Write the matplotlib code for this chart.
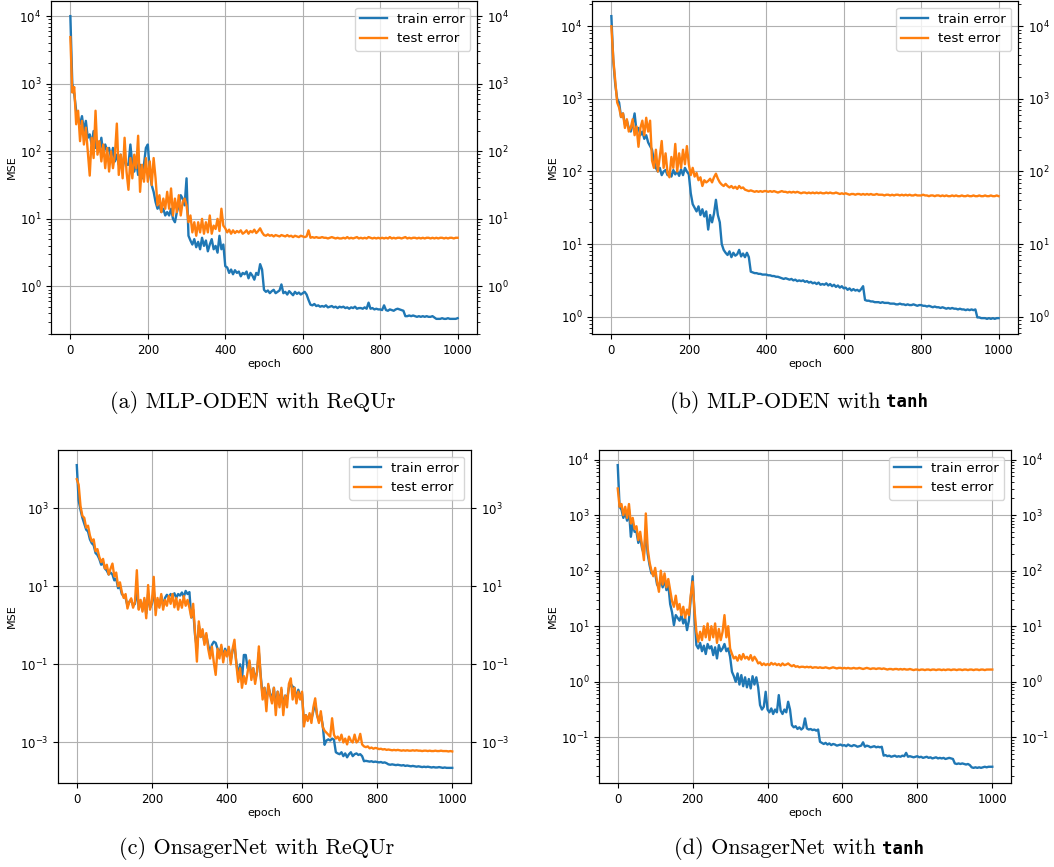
import numpy as np
import matplotlib
matplotlib.use("Agg")
import matplotlib.pyplot as plt
from matplotlib.ticker import NullLocator

# epochs sampled every 5 (x data)
epochs = np.arange(0, 1001, 5)

# ---- values, stored as log10(MSE) ----
# (a) MLP-ODEN with ReQUr
a_train_log10 = [
    4.0, 3.0, 2.85, 2.6, 2.5, 2.4, 2.52, 2.3, 2.45, 2.2,
    2.25, 2.1, 2.3, 2.05, 2.15, 2.0, 2.2, 1.95, 2.1, 2.0,
    2.05, 1.9, 2.05, 1.85, 1.95, 1.8, 1.95, 1.75, 1.9, 1.8,
    1.8, 2.1, 1.8, 1.7, 1.85, 1.65, 1.8, 1.6, 1.8, 2.05,
    2.1, 1.7, 1.5, 1.4, 1.25, 1.15, 1.2, 1.1, 1.15, 1.05,
    1.1, 1.05, 1.15, 1.0, 0.95, 1.1, 1.2, 1.35, 1.3, 1.2,
    1.6, 0.75, 0.68, 0.62, 0.7, 0.58, 0.66, 0.55, 0.72, 0.6,
    0.68, 0.52, 0.62, 0.7, 0.55, 0.6, 0.5, 0.75, 0.55, 0.62,
    0.3, 0.28, 0.2, 0.25, 0.18, 0.24, 0.2, 0.22, 0.15, 0.2,
    0.18, 0.22, 0.12, 0.2, 0.16, 0.1, 0.2, 0.17, 0.33, 0.25,
    -0.05, -0.08, -0.06, -0.1, -0.07, -0.05, -0.1, -0.08, -0.06, 0.03,
    -0.1, -0.08, -0.12, -0.07, -0.1, -0.13, -0.08, -0.11, -0.09, -0.12,
    -0.1, -0.08, -0.12, -0.2, -0.27, -0.28, -0.26, -0.29, -0.28, -0.3,
    -0.29, -0.3, -0.28, -0.31, -0.3, -0.29, -0.31, -0.3, -0.32, -0.3,
    -0.31, -0.3, -0.32, -0.31, -0.33, -0.31, -0.32, -0.3, -0.33, -0.32,
    -0.32, -0.33, -0.31, -0.33, -0.24, -0.33, -0.32, -0.34, -0.33, -0.34,
    -0.34, -0.35, -0.28, -0.35, -0.36, -0.34, -0.35, -0.36, -0.34, -0.33,
    -0.34, -0.35, -0.36, -0.44, -0.44, -0.43, -0.44, -0.43, -0.44, -0.45,
    -0.44, -0.45, -0.44, -0.45, -0.44, -0.45, -0.45, -0.44, -0.46, -0.48,
    -0.48, -0.48, -0.47, -0.48, -0.48, -0.47, -0.48, -0.48, -0.48, -0.48,
    -0.47,
]
a_test_log10 = [
    3.69, 2.87, 2.95, 2.4, 2.6, 2.15, 2.45, 2.1, 2.35, 2.0,
    1.64, 2.2, 1.9, 2.6, 1.95, 2.15, 1.85, 2.1, 1.75, 2.05,
    1.7, 2.0, 1.75, 1.95, 2.41, 1.65, 1.95, 1.6, 2.2, 1.7,
    1.43, 1.9, 1.6, 1.95, 1.75, 2.23, 1.4, 1.8, 1.55, 1.9,
    1.55, 1.85, 1.5, 1.9, 1.6, 1.2, 1.35, 1.1, 1.3, 1.15,
    1.4, 1.15, 1.45, 1.05, 1.3, 1.1, 1.35, 1.05, 1.25, 1.3,
    1.2, 0.95, 1.05, 0.8, 0.95, 0.75, 0.95, 0.8, 1.0, 0.78,
    0.95, 0.8, 1.05, 0.78, 0.9, 0.85, 1.0, 0.82, 1.15, 0.9,
    0.86, 0.8, 0.84, 0.78, 0.83, 0.79, 0.82, 0.8, 0.83, 0.78,
    0.8, 0.83, 0.78, 0.82, 0.8, 0.84, 0.79, 0.82, 0.86, 0.8,
    0.76, 0.75, 0.77, 0.75, 0.76, 0.74, 0.76, 0.75, 0.74, 0.76,
    0.75, 0.74, 0.76, 0.74, 0.75, 0.73, 0.75, 0.74, 0.73, 0.75,
    0.74, 0.73, 0.74, 0.83, 0.72, 0.73, 0.72, 0.73, 0.72, 0.72,
    0.73, 0.72, 0.72, 0.71, 0.72, 0.73, 0.72, 0.71, 0.72, 0.71,
    0.71, 0.72, 0.71, 0.73, 0.71, 0.72, 0.71, 0.72, 0.73, 0.71,
    0.72, 0.71, 0.72, 0.71, 0.73, 0.72, 0.71, 0.72, 0.71, 0.72,
    0.71, 0.72, 0.71, 0.72, 0.71, 0.73, 0.71, 0.72, 0.71, 0.72,
    0.72, 0.71, 0.72, 0.73, 0.71, 0.72, 0.71, 0.72, 0.72, 0.71,
    0.72, 0.71, 0.72, 0.71, 0.72, 0.72, 0.71, 0.72, 0.71, 0.72,
    0.71, 0.72, 0.72, 0.71, 0.72, 0.71, 0.72, 0.72, 0.71, 0.72,
    0.72,
]

# (b) MLP-ODEN with tanh
b_train_log10 = [
    4.14, 3.52, 3.2, 3.0, 2.95, 2.75, 2.8, 2.65, 2.7, 2.6,
    2.55, 2.65, 2.8, 2.55, 2.6, 2.5, 2.55, 2.45, 2.5, 2.4,
    2.35, 2.3, 2.15, 2.05, 2.0, 2.05, 1.95, 2.0, 2.02, 1.95,
    2.0, 1.93, 2.02, 1.96, 2.0, 1.94, 2.03, 1.95, 2.05, 2.0,
    1.96, 1.7, 1.55, 1.5, 1.45, 1.52, 1.4, 1.48, 1.38, 1.45,
    1.2, 1.4, 1.3, 1.42, 1.61, 1.4, 1.3, 1.0, 0.92, 0.88,
    0.85, 0.9, 0.82, 0.88, 0.84, 0.86, 0.92, 0.83, 0.87, 0.82,
    0.88, 0.82, 0.62, 0.61, 0.6, 0.6, 0.59, 0.59, 0.58, 0.58,
    0.58, 0.57, 0.57, 0.56, 0.56, 0.55, 0.55, 0.54, 0.53, 0.52,
    0.53, 0.52, 0.51, 0.52, 0.5, 0.51, 0.49, 0.5, 0.49, 0.5,
    0.48, 0.49, 0.47, 0.48, 0.46, 0.47, 0.45, 0.47, 0.44, 0.45,
    0.44, 0.46, 0.43, 0.45, 0.42, 0.44, 0.41, 0.43, 0.4, 0.42,
    0.39, 0.4, 0.37, 0.39, 0.36, 0.38, 0.36, 0.37, 0.35, 0.38,
    0.42, 0.23, 0.22, 0.22, 0.21, 0.21, 0.2, 0.2, 0.2, 0.19,
    0.2, 0.19, 0.19, 0.19, 0.18, 0.18, 0.18, 0.17, 0.17, 0.18,
    0.17, 0.17, 0.16, 0.17, 0.16, 0.16, 0.17, 0.16, 0.15, 0.16,
    0.16, 0.15, 0.15, 0.14, 0.15, 0.14, 0.13, 0.14, 0.13, 0.13,
    0.12, 0.13, 0.12, 0.11, 0.12, 0.11, 0.12, 0.11, 0.11, 0.1,
    0.11, 0.1, 0.1, 0.09, 0.1, 0.09, 0.1, 0.09, 0.1, -0.01,
    -0.01, -0.02, -0.02, -0.02, -0.03, -0.02, -0.03, -0.02, -0.03, -0.02,
    -0.02,
]
b_test_log10 = [
    4.0, 3.55, 3.25, 2.95, 2.88, 2.75, 2.8, 2.6, 2.72, 2.55,
    2.6, 2.72, 2.5, 2.62, 2.34, 2.6, 2.7, 2.5, 2.74, 2.55,
    2.7, 2.15, 2.05, 2.3, 2.0, 2.2, 2.42, 2.05, 2.25, 1.98,
    1.92, 2.2, 2.05, 2.38, 2.0, 2.25, 2.05, 2.3, 2.1, 2.35,
    2.1, 1.95, 2.05, 1.93, 1.98, 1.88, 1.92, 1.8, 1.88, 1.85,
    1.87, 1.9, 1.85, 1.92, 1.97, 1.9, 1.85, 1.82, 1.8, 1.83,
    1.8, 1.78, 1.8, 1.77, 1.79, 1.76, 1.8, 1.77, 1.78, 1.75,
    1.74, 1.73, 1.74, 1.73, 1.72, 1.73, 1.72, 1.73, 1.72, 1.73,
    1.73, 1.72, 1.73, 1.72, 1.73, 1.72, 1.71, 1.72, 1.73, 1.72,
    1.72, 1.71, 1.72, 1.71, 1.72, 1.71, 1.72, 1.71, 1.7, 1.71,
    1.71, 1.7, 1.71, 1.7, 1.71, 1.7, 1.71, 1.7, 1.71, 1.7,
    1.7, 1.71, 1.7, 1.71, 1.7, 1.7, 1.71, 1.7, 1.69, 1.7,
    1.69, 1.7, 1.69, 1.68, 1.69, 1.69, 1.68, 1.69, 1.69, 1.68,
    1.69, 1.68, 1.69, 1.68, 1.69, 1.68, 1.68, 1.69, 1.68, 1.68,
    1.68, 1.67, 1.68, 1.68, 1.67, 1.68, 1.67, 1.68, 1.68, 1.67,
    1.68, 1.67, 1.68, 1.67, 1.68, 1.67, 1.67, 1.68, 1.67, 1.67,
    1.67, 1.68, 1.67, 1.67, 1.66, 1.67, 1.67, 1.66, 1.67, 1.67,
    1.66, 1.67, 1.66, 1.67, 1.66, 1.66, 1.67, 1.66, 1.67, 1.66,
    1.66, 1.67, 1.66, 1.66, 1.67, 1.66, 1.66, 1.67, 1.66, 1.66,
    1.67, 1.66, 1.66, 1.67, 1.66, 1.66, 1.67, 1.66, 1.66, 1.67,
    1.66,
]

# (c) OnsagerNet with ReQUr
c_train_log10 = [
    4.1, 3.2, 2.95, 2.75, 2.6, 2.45, 2.4, 2.2, 2.1, 2.05,
    1.85, 1.8, 1.7, 1.55, 1.6, 1.45, 1.4, 1.3, 1.35, 1.3,
    1.15, 1.2, 0.95, 1.0, 0.8, 0.75, 0.7, 0.5, 0.6, 0.65,
    0.5, 0.55, 0.9, 0.45, 0.6, 0.4, 0.65, 0.3, 0.8, 0.45,
    0.55, 0.9, 0.4, 0.65, 0.5, 0.75, 0.5, 0.7, 0.78, 0.72,
    0.8, 0.74, 0.82, 0.7, 0.8, 0.76, 0.84, 0.72, 0.88, 0.8,
    0.85, 0.2, 0.4, -0.25, -0.6, 0.0, -0.3, -0.15, -0.45, -0.25,
    -0.5, -0.7, -0.5, -0.42, -0.45, -0.6, -0.7, -0.55, -0.8, -0.6,
    -0.7, -0.6, -0.9, -0.65, -0.5, -0.95, -1.3, -1.0, -1.4, -0.76,
    -0.76, -1.1, -0.95, -1.3, -1.1, -1.4, -1.2, -0.7, -1.3, -1.8,
    -1.6, -2.0, -1.55, -1.75, -1.9, -1.6, -2.1, -1.7, -2.0, -1.65,
    -2.1, -1.8, -1.9, -1.6, -1.5, -1.57, -1.6, -1.9, -1.65, -1.8,
    -1.75, -2.5, -2.3, -2.4, -2.3, -2.4, -2.2, -2.0, -2.3, -2.45,
    -2.3, -2.55, -3.06, -2.95, -2.92, -2.95, -2.9, -2.93, -3.25, -3.28,
    -3.3, -3.25, -3.35, -3.28, -3.38, -3.3, -3.25, -3.35, -3.3, -3.28,
    -3.32, -3.3, -3.35, -3.48, -3.47, -3.48, -3.49, -3.48, -3.5, -3.49,
    -3.5, -3.51, -3.5, -3.52, -3.51, -3.53, -3.56, -3.57, -3.56, -3.57,
    -3.58, -3.57, -3.58, -3.59, -3.58, -3.6, -3.59, -3.6, -3.61, -3.6,
    -3.61, -3.62, -3.61, -3.62, -3.63, -3.62, -3.63, -3.62, -3.63, -3.64,
    -3.63, -3.64, -3.64, -3.63, -3.64, -3.65, -3.64, -3.65, -3.65, -3.65,
    -3.65,
]
c_test_log10 = [
    3.74, 3.6, 3.05, 2.8, 2.75, 2.5, 2.55, 2.3, 2.15, 2.2,
    1.9, 1.95, 1.75, 1.62, 1.7, 1.45, 1.55, 1.3, 1.45, 1.58,
    1.25, 1.35, 1.0, 1.1, 0.85, 0.7, 0.8, 0.43, 0.6, 0.69,
    0.45, 0.6, 1.41, 0.4, 0.65, 0.35, 0.7, 0.18, 1.03, 0.4,
    0.6, 1.24, 0.26, 0.7, 0.45, 0.8, 0.4, 0.65, 0.5, 0.75,
    0.55, 0.8, 0.46, 0.7, 0.4, 0.65, 0.45, 0.75, 0.5, 0.65,
    0.45, 0.2, 0.55, -0.2, -0.93, 0.1, -0.3, -0.1, -0.5, -0.2,
    -0.6, -0.85, -0.55, -0.95, -1.27, -0.6, -0.85, -0.5, -0.95, -0.65,
    -0.8, -0.55, -1.0, -0.6, -0.37, -1.0, -1.45, -1.1, -1.6, -1.3,
    -1.5, -1.2, -0.9, -1.4, -1.1, -1.5, -1.2, -0.54, -1.35, -1.9,
    -1.6, -2.2, -1.5, -1.8, -2.0, -1.6, -2.3, -1.7, -2.1, -1.6,
    -2.3, -1.8, -2.1, -1.5, -1.36, -1.9, -1.6, -2.0, -1.7, -1.9,
    -1.7, -2.59, -2.3, -2.45, -2.25, -2.5, -2.1, -1.87, -2.3, -2.5,
    -2.2, -2.6, -2.7, -2.75, -2.8, -2.85, -2.38, -2.8, -2.9, -2.85,
    -2.95, -2.8, -3.0, -2.9, -3.05, -2.85, -2.95, -3.0, -2.8, -3.0,
    -2.95, -2.78, -3.05, -3.1, -3.12, -3.1, -3.15, -3.13, -3.16, -3.14,
    -3.15, -3.17, -3.16, -3.18, -3.17, -3.19, -3.18, -3.19, -3.2, -3.19,
    -3.2, -3.19, -3.2, -3.21, -3.2, -3.21, -3.2, -3.21, -3.21, -3.2,
    -3.21, -3.2, -3.21, -3.21, -3.22, -3.21, -3.21, -3.22, -3.21, -3.22,
    -3.22, -3.21, -3.22, -3.22, -3.21, -3.22, -3.22, -3.22, -3.23, -3.22,
    -3.23,
]

# (d) OnsagerNet with tanh
d_train_log10 = [
    3.9, 3.15, 3.1, 2.95, 3.05, 2.9, 3.1, 2.61, 2.85, 2.7,
    2.7, 2.5, 2.6, 2.4, 2.3, 2.7, 2.3, 2.1, 1.95, 1.98,
    1.95, 1.75, 1.7, 1.85, 1.7, 1.85, 1.65, 1.75, 1.4, 1.25,
    1.02, 1.2, 1.15, 1.1, 1.2, 1.05, 1.15, 0.93, 1.1, 1.5,
    1.9, 1.2, 0.66, 0.6, 0.7, 0.55, 0.65, 0.5, 0.68, 0.6,
    0.64, 0.48, 0.62, 0.42, 0.66, 0.55, 0.6, 0.68, 0.55, 0.6,
    0.45, 0.18, 0.1, 0.0, 0.15, -0.05, 0.12, -0.08, 0.08, -0.1,
    0.05, -0.12, 0.1, -0.05, 0.08, -0.1, -0.42, -0.5, -0.45, -0.18,
    -0.5, -0.55, -0.48, -0.58, -0.5, -0.55, -0.24, -0.52, -0.58, -0.5,
    -0.55, -0.36, -0.5, -0.78, -0.82, -0.8, -0.85, -0.82, -0.86, -0.83,
    -0.66, -0.84, -0.86, -0.85, -0.87, -0.86, -0.88, -0.86, -1.08, -1.1,
    -1.12, -1.1, -1.13, -1.11, -1.14, -1.12, -1.13, -1.15, -1.14, -1.13,
    -1.15, -1.14, -1.16, -1.13, -1.15, -1.16, -1.14, -1.15, -1.17, -1.16,
    -1.15, -1.09, -1.17, -1.15, -1.16, -1.18, -1.17, -1.16, -1.18, -1.17,
    -1.18, -1.17, -1.33, -1.32, -1.34, -1.33, -1.35, -1.34, -1.33, -1.35,
    -1.34, -1.35, -1.33, -1.34, -1.28, -1.35, -1.34, -1.35, -1.36, -1.35,
    -1.34, -1.36, -1.35, -1.37, -1.36, -1.35, -1.37, -1.36, -1.38, -1.37,
    -1.36, -1.38, -1.37, -1.38, -1.37, -1.39, -1.38, -1.37, -1.38, -1.39,
    -1.47, -1.48, -1.47, -1.48, -1.47, -1.48, -1.49, -1.48, -1.5, -1.54,
    -1.55, -1.54, -1.55, -1.54, -1.55, -1.54, -1.53, -1.54, -1.53, -1.53,
    -1.53,
]
d_test_log10 = [
    3.48, 3.15, 3.2, 3.0, 3.15, 2.95, 3.2, 2.85, 2.95, 2.75,
    2.8, 2.55, 2.7, 2.45, 2.19, 3.03, 2.4, 2.15, 2.0, 1.9,
    2.05, 1.8, 1.62, 2.0, 1.75, 1.95, 1.7, 1.85, 1.65, 1.45,
    1.35, 1.55, 1.3, 1.4, 1.2, 1.35, 1.15, 1.3, 1.2, 1.56,
    1.8, 1.3, 0.9, 0.72, 0.9, 0.75, 1.0, 0.8, 1.05, 0.75,
    1.0, 0.8, 1.05, 0.7, 0.95, 0.75, 0.9, 1.2, 0.8, 1.0,
    0.6, 0.5, 0.42, 0.45, 0.38, 0.48, 0.4, 0.5, 0.42, 0.45,
    0.4, 0.48, 0.38, 0.45, 0.4, 0.33, 0.35, 0.3, 0.33, 0.3,
    0.32, 0.3, 0.34, 0.31, 0.33, 0.3, 0.32, 0.29, 0.33, 0.3,
    0.31, 0.33, 0.3, 0.28, 0.3, 0.27, 0.28, 0.26, 0.27, 0.27,
    0.26, 0.27, 0.26, 0.27, 0.25, 0.26, 0.26, 0.25, 0.26, 0.25,
    0.25, 0.26, 0.25, 0.24, 0.25, 0.26, 0.25, 0.24, 0.25, 0.25,
    0.24, 0.25, 0.24, 0.25, 0.24, 0.24, 0.25, 0.24, 0.24, 0.25,
    0.24, 0.23, 0.24, 0.25, 0.24, 0.23, 0.24, 0.24, 0.23, 0.24,
    0.24, 0.23, 0.24, 0.23, 0.22, 0.23, 0.23, 0.22, 0.23, 0.23,
    0.22, 0.23, 0.22, 0.23, 0.22, 0.22, 0.23, 0.22, 0.21, 0.22,
    0.22, 0.21, 0.22, 0.22, 0.21, 0.22, 0.22, 0.21, 0.22, 0.22,
    0.21, 0.22, 0.22, 0.21, 0.22, 0.21, 0.22, 0.22, 0.21, 0.22,
    0.22, 0.21, 0.22, 0.22, 0.21, 0.22, 0.22, 0.21, 0.22, 0.22,
    0.21, 0.22, 0.22, 0.21, 0.22, 0.22, 0.21, 0.22, 0.22, 0.22,
    0.22,
]

series_labels = ["train error", "test error"]
captions = [
    ("(a) MLP-ODEN with ReQUr", None),
    ("(b) MLP-ODEN with", "tanh"),
    ("(c) OnsagerNet with ReQUr", None),
    ("(d) OnsagerNet with", "tanh"),
]
# panel (c) labels every second decade
c_major_ticks = [1e-3, 1e-1, 1e1, 1e3]

TRAIN_C = "#1f77b4"
TEST_C = "#ff7f0e"

fig = plt.figure(figsize=(10.54, 8.67), dpi=100)
W, H = 1054.0, 867.0

# axes rectangles in pixels: left, top, right, bottom
rects_px = [
    (51, 1, 477, 334),
    (592, 1, 1018, 334),
    (58, 450, 471, 783),
    (599, 450, 1011, 783),
]
data = [
    (a_train_log10, a_test_log10),
    (b_train_log10, b_test_log10),
    (c_train_log10, c_test_log10),
    (d_train_log10, d_test_log10),
]
# caption anchor in pixels
cap_pos = [(253, 402), (886, 402), (257, 849), (882, 849)]

for i, ((l, t, r, b), (tr, te)) in enumerate(zip(rects_px, data)):
    assert len(tr) == len(epochs) and len(te) == len(epochs), (i, len(tr), len(te))
    ax = fig.add_axes([l / W, 1 - b / H, (r - l) / W, (b - t) / H])
    ax.plot(epochs, 10 ** np.asarray(tr), color=TRAIN_C, lw=1.7, label=series_labels[0])
    ax.plot(epochs, 10 ** np.asarray(te), color=TEST_C, lw=1.7, label=series_labels[1])
    ax.set_yscale("log")
    ax.grid(True, which="major", color="#b0b0b0", lw=0.8)
    ax.set_xlabel("epoch", fontsize=8, labelpad=2)
    ax.set_ylabel("MSE", fontsize=8, labelpad=2)
    ax.tick_params(labelsize=8.5, length=3.5, width=0.8)
    ax.legend(loc="upper right", fontsize=9.5, handlelength=2.0)
    ax2 = ax.twinx()
    ax2.set_yscale("log")
    ax2.set_ylim(ax.get_ylim())
    ax2.tick_params(labelsize=8.5, length=3.5, width=0.8)
    if i == 2:
        ylim = ax.get_ylim()
        for axis in (ax, ax2):
            axis.set_yticks(c_major_ticks)
            axis.yaxis.set_minor_locator(NullLocator())
            axis.set_ylim(ylim)

    main, mono = captions[i]
    cx, cy = cap_pos[i]
    if mono is None:
        fig.text(cx / W, 1 - cy / H, main, ha="center", va="center",
                 family="cmr10", fontsize=16)
    else:
        fig.text((cx - 6) / W, 1 - cy / H, main, ha="right", va="center",
                 family="cmr10", fontsize=16)
        fig.text(cx / W, 1 - cy / H, mono, ha="left", va="center",
                 family="DejaVu Sans Mono", fontweight="bold", fontsize=12.5)

fig.savefig("out.png", dpi=100)
